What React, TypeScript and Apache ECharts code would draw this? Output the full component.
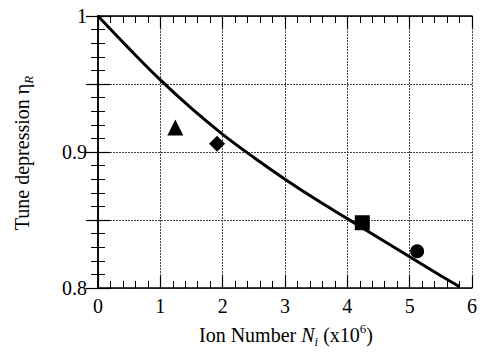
import React, { useEffect, useRef } from "react";
import * as echarts from "echarts";

// Fitted curve
const curveN = [0, 0.5, 1, 1.5, 2, 2.5, 3, 3.5, 4, 4.5, 5, 5.5, 5.8];
const curveEta = [1, 0.976, 0.953, 0.932, 0.913, 0.896, 0.88, 0.865, 0.851, 0.837, 0.823, 0.809, 0.801];

// Measured points
const markerSymbols = ["triangle", "diamond", "rect", "circle"];
const markerN = [1.24, 1.91, 4.24, 5.12];
const markerEta = [0.918, 0.906, 0.848, 0.827];
const markerSizes = [16, 16, 15, 14];

const xTicks = [0, 1, 2, 3, 4, 5, 6];
const yTickLabels = ["0.8", "0.9", "1"];

const FONT = "Liberation Serif, serif";

export default function App() {
  const ref = useRef<HTMLDivElement>(null);
  useEffect(() => {
    if (!ref.current) return;
    const chart = echarts.init(ref.current, null, { renderer: "svg" });
    const gridL = 98, gridT = 16, gridR = 6, gridB = 70;
    const dotted = { show: true, lineStyle: { color: "#444", type: [2, 1] as any, width: 1 } };
    const labelRich = { t: { fontFamily: FONT, fontSize: 20, color: "#000" } };
    const baseX = {
      type: "value" as const,
      min: xTicks[0],
      max: xTicks[xTicks.length - 1],
      interval: 1,
      axisLine: { show: true, lineStyle: { color: "#000", width: 1.5 } },
      axisTick: { show: true, inside: true, length: 12, lineStyle: { color: "#000", width: 1.2 } },
      minorTick: { show: true, splitNumber: 5, length: 7, lineStyle: { color: "#000", width: 1 } },
    };
    const baseY = {
      type: "value" as const,
      min: 0.8,
      max: 1,
      interval: 0.05,
      axisLine: { show: true, lineStyle: { color: "#000", width: 1.5 } },
      axisTick: { show: true, inside: true, length: 12, lineStyle: { color: "#000", width: 1.2 } },
      minorTick: { show: true, splitNumber: 5, length: 7, lineStyle: { color: "#000", width: 1 } },
    };
    chart.setOption({
      animation: false,
      backgroundColor: "#fff",
      textStyle: { fontFamily: FONT },
      grid: { left: gridL, top: gridT, right: gridR, bottom: gridB },
      xAxis: [
        {
          ...baseX,
          position: "bottom",
          splitLine: dotted,
          axisLabel: {
            fontFamily: FONT,
            fontSize: 20,
            color: "#000",
            margin: 8,
            showMaxLabel: true,
            showMinLabel: true,
            formatter: (v: number) => `{t|${v}}`,
            rich: labelRich,
          },
        },
        {
          ...baseX,
          position: "top",
          splitLine: { show: false },
          axisLabel: { show: false },
        },
      ],
      yAxis: [
        {
          ...baseY,
          position: "left",
          splitLine: dotted,
          axisLabel: {
            fontFamily: FONT,
            fontSize: 20,
            color: "#000",
            margin: 11,
            rich: labelRich,
            formatter: (v: number) => {
              const s = (Math.round(v * 100) / 100).toString();
              return yTickLabels.includes(s) ? `{t|${s}}` : "";
            },
          },
        },
        {
          ...baseY,
          position: "right",
          splitLine: { show: false },
          axisLabel: { show: false },
        },
      ],
      series: [
        {
          type: "line",
          data: curveN.map((n, i) => [n, curveEta[i]]),
          smooth: 0.4,
          showSymbol: false,
          symbol: "none",
          lineStyle: { color: "#000", width: 3 },
          z: 3,
        },
        ...markerSymbols.map((s, i) => ({
          type: "scatter",
          symbol: s,
          symbolSize: markerSizes[i],
          data: [[markerN[i], markerEta[i]]],
          itemStyle: { color: "#000", opacity: 1 },
          z: 4,
        })),
      ],
      graphic: [
        {
          type: "text",
          x: 286,
          y: 335,
          style: {
            text: "{r|Ion Number }{i|N}{sub|i}{r| (x10}{sup|6}{r|)}",
            align: "center",
            verticalAlign: "middle",
            fill: "#000",
            rich: {
              r: { fontFamily: FONT, fontSize: 20, lineHeight: 26 },
              i: { fontFamily: FONT, fontSize: 20, fontStyle: "italic", lineHeight: 26 },
              sub: { fontFamily: FONT, fontSize: 13, fontStyle: "italic", verticalAlign: "bottom", lineHeight: 12 },
              sup: { fontFamily: FONT, fontSize: 13, verticalAlign: "top", lineHeight: 12 },
            },
          },
        },
        {
          type: "text",
          x: 22,
          y: 153,
          rotation: Math.PI / 2,
          style: {
            text: "{r|Tune depression η}{sub|R}",
            align: "center",
            verticalAlign: "middle",
            fill: "#000",
            rich: {
              r: { fontFamily: FONT, fontSize: 20, lineHeight: 26 },
              sub: { fontFamily: FONT, fontSize: 13, fontStyle: "italic", verticalAlign: "bottom", lineHeight: 12 },
            },
          },
        },
      ],
    });
    return () => chart.dispose();
  }, []);
  return (
    <div
      ref={ref}
      style={{ position: "fixed", left: 0, top: 0, width: 480, height: 358, background: "#fff" }}
    />
  );
}
